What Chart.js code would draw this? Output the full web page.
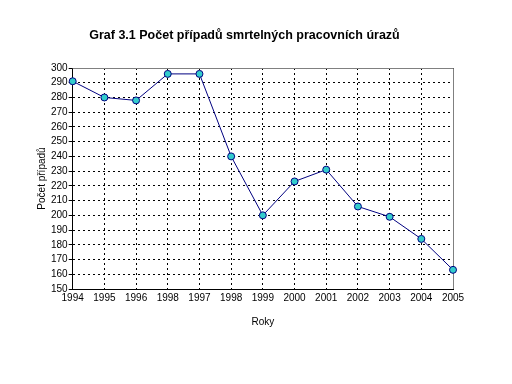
<!DOCTYPE html>
<html>
<head>
<meta charset="utf-8">
<script src="https://cdn.jsdelivr.net/npm/chart.js@4"></script>
<style>
  html, body { margin: 0; padding: 0; background: #fff; }
  #wrap { width: 512px; height: 384px; }
</style>
</head>
<body>
<div id="wrap"><canvas id="chart" width="512" height="384"></canvas></div>
<script>
// labels as printed on the original (1998 appears twice)
const years = ["1994", "1995", "1996", "1998", "1997", "1998", "1999", "2000", "2001", "2002", "2003", "2004", "2005"];
const deaths = [291, 280, 278, 296, 296, 240, 200, 223, 231, 206, 199, 184, 163];
const yMin = 150;
const yMax = 300;
const yStep = 10;

const font = "Arial, 'Liberation Sans', sans-serif";

// gray frame on top and right, like the old Excel plot area
const frame = {
  id: 'frame',
  beforeDatasetsDraw(chart) {
    const { ctx, chartArea: a } = chart;
    ctx.save();
    ctx.strokeStyle = '#808080';
    ctx.lineWidth = 1;
    ctx.beginPath();
    ctx.moveTo(a.left, a.top + 0.5);
    ctx.lineTo(a.right + 0.5, a.top + 0.5);
    ctx.lineTo(a.right + 0.5, a.bottom);
    ctx.stroke();
    ctx.restore();
  }
};

new Chart(document.getElementById('chart'), {
  type: 'line',
  data: {
    labels: years,
    datasets: [{
      data: deaths,
      borderColor: '#000080',
      borderWidth: 1,
      pointBackgroundColor: '#33CCCC',
      pointBorderColor: '#000080',
      pointBorderWidth: 1,
      pointRadius: 3.5,
      tension: 0
    }]
  },
  options: {
    responsive: false,
    animation: false,
    layout: { padding: { left: 36, right: 59, top: 28, bottom: 56 } },
    plugins: {
      legend: { display: false },
      tooltip: { enabled: false },
      title: {
        display: true,
        text: 'Graf 3.1 Počet případů smrtelných pracovních úrazů',
        color: '#000',
        font: { family: font, size: 12.5, weight: 'bold' },
        padding: { top: 0, bottom: 25 }
      }
    },
    scales: {
      x: {
        offset: false,
        grid: {
          color: '#000',
          lineWidth: 1,
          drawTicks: false
        },
        border: { color: '#000', width: 1, dash: [2, 3] },
        ticks: {
          color: '#000',
          font: { family: font, size: 10 },
          padding: 3,
          maxRotation: 0,
          autoSkip: false
        },
        title: {
          display: true,
          text: 'Roky',
          color: '#000',
          font: { family: font, size: 10 },
          padding: { top: 9, bottom: 0 }
        }
      },
      y: {
        min: yMin,
        max: yMax,
        grid: {
          color: '#000',
          lineWidth: 1,
          tickLength: 4,
          tickColor: '#000',
          tickBorderDash: []
        },
        border: { color: '#000', width: 1, dash: [2, 3] },
        ticks: {
          stepSize: yStep,
          autoSkip: false,
          color: '#000',
          font: { family: font, size: 10 },
          padding: 1
        },
        title: {
          display: true,
          text: 'Počet případů',
          color: '#000',
          font: { family: font, size: 10 },
          padding: { top: 0, bottom: 2 }
        }
      }
    }
  },
  plugins: [frame]
});
</script>
</body>
</html>
